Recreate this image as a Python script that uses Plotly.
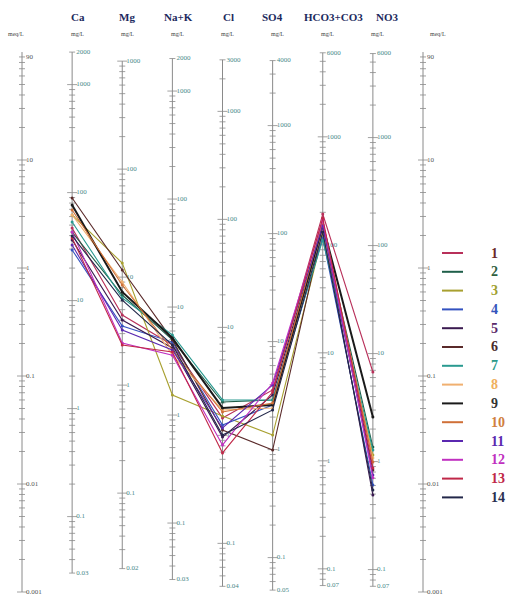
import math
import plotly.graph_objects as go

# ---------------- data ----------------
ions = ["Ca", "Mg", "Na+K", "Cl", "SO4", "HCO3+CO3", "NO3"]
eq_weight = [20.04, 12.15, 22.99, 35.45, 48.03, 61.02, 62.00]   # mg per meq
axis_top_mg = [2000, 1000, 2000, 3000, 4000, 6000, 6000]
axis_bottom_mg = [0.03, 0.02, 0.03, 0.04, 0.05, 0.07, 0.07]
meq_axis_labels = [90, 10, 1, 0.1, 0.01, 0.001]

sample_names = [str(i) for i in range(1, 15)]

# concentrations in meq/L : Ca, Mg, Na+K, Cl, SO4, HCO3+CO3, NO3
s1 = [2.34, 0.367, 0.194, 0.0409, 0.0742, 3.16, 0.109]
s2 = [2.15, 0.562, 0.216, 0.0574, 0.0600, 2.25, 0.0220]
s3 = [3.10, 1.11, 0.0667, 0.0427, 0.0284, 2.02, 0.0186]
s4 = [1.47, 0.290, 0.206, 0.0352, 0.0539, 1.90, 0.0098]
s5 = [1.82, 0.330, 0.182, 0.0272, 0.0667, 2.50, 0.0079]
s6 = [4.45, 0.958, 0.216, 0.0316, 0.0206, 2.34, 0.0135]
s7 = [2.67, 0.528, 0.240, 0.0600, 0.0600, 1.82, 0.0206]
s8 = [3.10, 0.742, 0.156, 0.0485, 0.0506, 2.25, 0.0174]
s9 = [3.83, 0.600, 0.225, 0.0506, 0.0539, 2.50, 0.0417]
s10 = [3.44, 0.696, 0.174, 0.0464, 0.0562, 2.67, 0.0160]
s11 = [1.63, 0.267, 0.174, 0.0330, 0.0826, 2.45, 0.0121]
s12 = [2.15, 0.202, 0.156, 0.0230, 0.0861, 2.78, 0.0114]
s13 = [1.90, 0.194, 0.167, 0.0194, 0.0711, 2.90, 0.0141]
s14 = [1.98, 0.505, 0.194, 0.0284, 0.0485, 2.15, 0.0088]
series = [s1, s2, s3, s4, s5, s6, s7, s8, s9, s10, s11, s12, s13, s14]

colors = ["#b8305a", "#1f5f4a", "#a8a030", "#3352c0", "#3a1a50", "#5a2a2a",
          "#2a9a90", "#f0b070", "#1a1a1a", "#d07038", "#5a28b0", "#c030c0",
          "#c02848", "#23284a"]
label_colors = ["#6b2a2a", "#2f5f3f", "#a0a030", "#3355bb", "#5a2a6a", "#4a2a2a",
                "#2a9a8a", "#f0b060", "#333333", "#d08040", "#5a28b0", "#c030c0",
                "#c02848", "#2a3050"]

# ---------------- layout constants ----------------
W, H = 506, 598
X0_PX, DX_PX = 22.0, 50.125          # pixel of x=0 and pixels per axis step
LOG_TOP, LOG_BOT = 268 / 108, (268 - 598) / 108
GRAY = "#8a8a8a"
TEAL = "#4a8a8a"
SERIF = "Liberation Serif, DejaVu Serif, serif"

def dpx(p):
    return p / DX_PX

fig = go.Figure()

# ---------------- axes ----------------
line_x, line_y = [], []
tick_x, tick_y = [], []
labels_by_color = {}

def fmt(v):
    if v >= 1:
        return str(int(round(v)))
    return ("%g" % v)

def add_axis(xpos, lo, hi, factor, labels, color):
    line_x.extend([xpos, xpos, None])
    line_y.extend([lo / factor, hi / factor, None])
    kmin = int(math.floor(math.log10(lo))) - 1
    kmax = int(math.ceil(math.log10(hi))) + 1
    for k in range(kmin, kmax + 1):
        for d in range(1, 10):
            v = d * 10 ** k
            if v < lo * 0.999 or v > hi * 1.001:
                continue
            half = dpx(5) if d == 1 else dpx(3)
            yv = v / factor
            tick_x.extend([xpos - half, xpos + half, None])
            tick_y.extend([yv, yv, None])
    bucket = labels_by_color.setdefault(color, ([], [], []))
    for v in labels:
        bucket[0].append(xpos + dpx(4))
        bucket[1].append(v / factor)
        bucket[2].append(fmt(v))

for xpos in (0, 8):
    add_axis(xpos, 0.001, 99.9, 1.0, meq_axis_labels, "#555555")

for i in range(len(ions)):
    lo, hi = axis_bottom_mg[i], axis_top_mg[i]
    labels = [hi]
    k = int(math.floor(math.log10(hi)))
    while 10 ** k >= lo:
        if abs(10 ** k - hi) > 1e-9 and 10 ** k > lo * 1.001:
            labels.append(10 ** k)
        k -= 1
    labels.append(lo)
    add_axis(i + 1, lo, hi, eq_weight[i], labels, TEAL)

fig.add_trace(go.Scatter(x=line_x, y=line_y, mode="lines",
                         line=dict(color=GRAY, width=1), hoverinfo="skip",
                         showlegend=False))
fig.add_trace(go.Scatter(x=tick_x, y=tick_y, mode="lines",
                         line=dict(color=GRAY, width=0.8), hoverinfo="skip",
                         showlegend=False))
for col, (lx, ly, lt) in labels_by_color.items():
    fig.add_trace(go.Scatter(x=lx, y=ly, mode="text", text=lt,
                             textposition="middle right",
                             textfont=dict(family=SERIF, size=7, color=col),
                             hoverinfo="skip", showlegend=False))

# ---------------- sample lines ----------------
xs = list(range(1, len(ions) + 1))
for name, vals, col in zip(sample_names, series, colors):
    w = 2.0 if col == "#1a1a1a" else 1.1
    fig.add_trace(go.Scatter(x=xs, y=vals, mode="lines+markers", name=name,
                             line=dict(color=col, width=w),
                             marker=dict(color=col, size=3),
                             showlegend=False))

# ---------------- header texts ----------------
ann = []
header_px = [78, 127, 178, 228, 272, 333, 387]
for txt, px in zip(ions, header_px):
    ann.append(dict(x=(px - X0_PX) / DX_PX, y=1 - 17 / H, xref="x", yref="paper",
                    text="<b>" + txt + "</b>",
                    showarrow=False, xanchor="center", yanchor="middle",
                    font=dict(family=SERIF, size=11, color="#1c2a5e")))
for i in range(len(ions)):
    ann.append(dict(x=i + 1 + dpx(5), y=1 - 34 / H, xref="x", yref="paper",
                    text="mg/L", showarrow=False, xanchor="center", yanchor="middle",
                    font=dict(family=SERIF, size=6, color="#444444")))
for xpos, off in ((0, -6), (8, 15)):
    ann.append(dict(x=xpos + dpx(off), y=1 - 34 / H, xref="x", yref="paper",
                    text="meq/L", showarrow=False, xanchor="center", yanchor="middle",
                    font=dict(family=SERIF, size=6, color="#444444")))

# ---------------- legend ----------------
shapes = []
for i, (name, col, lc) in enumerate(zip(sample_names, colors, label_colors)):
    ypx = 253 + 18.8 * i
    yp = 1 - ypx / H
    shapes.append(dict(type="line", xref="paper", yref="paper",
                       x0=442 / W, x1=463 / W, y0=yp, y1=yp,
                       line=dict(color=col, width=2)))
    ann.append(dict(x=489 / W, y=yp, xref="paper", yref="paper", text="<b>" + name + "</b>",
                    showarrow=False, xanchor="left", yanchor="middle",
                    font=dict(family=SERIF, size=14, color=lc)))

fig.update_layout(
    width=W, height=H, autosize=False,
    margin=dict(l=0, r=0, t=0, b=0),
    paper_bgcolor="white", plot_bgcolor="white",
    xaxis=dict(range=[-X0_PX / DX_PX, (W - X0_PX) / DX_PX], visible=False, fixedrange=True),
    yaxis=dict(type="log", range=[LOG_BOT, LOG_TOP], visible=False, fixedrange=True),
    annotations=ann, shapes=shapes, showlegend=False,
)

fig.write_html("out.html", config={"displayModeBar": False},
               post_script="document.body.style.margin='0px';"
                           "document.body.style.overflow='hidden';")
